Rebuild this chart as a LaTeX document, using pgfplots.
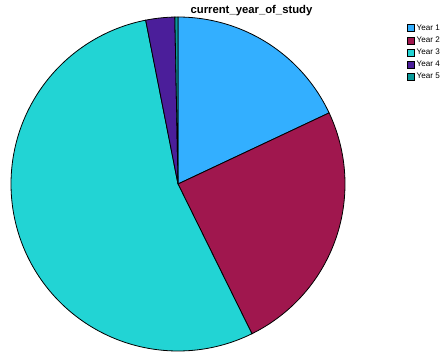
\documentclass[border=0pt]{standalone}
\usepackage{pgfplots}
\pgfplotsset{compat=1.18}
\usepackage{fontspec}
\setmainfont{Liberation Sans}
\definecolor{cA}{HTML}{33AFFF}
\definecolor{cB}{HTML}{A0174E}
\definecolor{cC}{HTML}{22D4D4}
\definecolor{cD}{HTML}{4B1E9A}
\definecolor{cE}{HTML}{0A9A9A}
% shares in percent
\def\pA{18.0}\def\pB{24.7}\def\pC{54.2}\def\pD{2.8}\def\pE{0.3}
\pgfmathsetmacro\aA{90}
\pgfmathsetmacro\aB{\aA-3.6*\pA}
\pgfmathsetmacro\aC{\aB-3.6*\pB}
\pgfmathsetmacro\aD{\aC-3.6*\pC}
\pgfmathsetmacro\aE{\aD-3.6*\pD}
\pgfmathsetmacro\aF{\aE-3.6*\pE}
\def\cx{178}\def\cy{170}\def\rr{167}
\begin{document}
\begin{tikzpicture}
\useasboundingbox (0,0) rectangle (442pt,354pt);
\clip (0,0) rectangle (442pt,354pt);
\begin{axis}[
  scale only axis, width=442pt, height=354pt,
  xmin=0, xmax=442, ymin=0, ymax=354,
  hide axis, clip=false,
  legend cell align=left,
  legend style={draw=none, fill=none, at={(axis cs:407,331.5)}, anchor=north west,
    font=\fontsize{8.1}{8.5}\selectfont, row sep=1.0pt, inner sep=0pt,
    /tikz/every even column/.append style={column sep=0pt}},
  legend image code/.code={\draw[#1, line width=0.5pt] (0pt,-3.5pt) rectangle (7pt,3.5pt);},
]
\addplot[fill=cA, draw=black, line width=0.8pt, domain=\aB:\aA, samples=60, variable=\t]
  ({\cx+\rr*cos(\t)}, {\cy+\rr*sin(\t)}) -- (axis cs:\cx,\cy) -- cycle;
\addlegendentry{Year 1}
\addplot[fill=cB, draw=black, line width=0.8pt, domain=\aC:\aB, samples=80, variable=\t]
  ({\cx+\rr*cos(\t)}, {\cy+\rr*sin(\t)}) -- (axis cs:\cx,\cy) -- cycle;
\addlegendentry{Year 2}
\addplot[fill=cC, draw=black, line width=0.8pt, domain=\aD:\aC, samples=150, variable=\t]
  ({\cx+\rr*cos(\t)}, {\cy+\rr*sin(\t)}) -- (axis cs:\cx,\cy) -- cycle;
\addlegendentry{Year 3}
\addplot[fill=cD, draw=black, line width=0.8pt, domain=\aE:\aD, samples=10, variable=\t]
  ({\cx+\rr*cos(\t)}, {\cy+\rr*sin(\t)}) -- (axis cs:\cx,\cy) -- cycle;
\addlegendentry{Year 4}
\addplot[fill=cE, draw=black, line width=0.8pt, domain=\aF:\aE, samples=3, variable=\t]
  ({\cx+\rr*cos(\t)}, {\cy+\rr*sin(\t)}) -- (axis cs:\cx,\cy) -- cycle;
\addlegendentry{Year 5}
\node[anchor=base, font=\fontsize{11.3}{13}\selectfont\bfseries] at (axis cs:251.5,340) {current\_year\_of\_study};
\end{axis}
\end{tikzpicture}
\end{document}
